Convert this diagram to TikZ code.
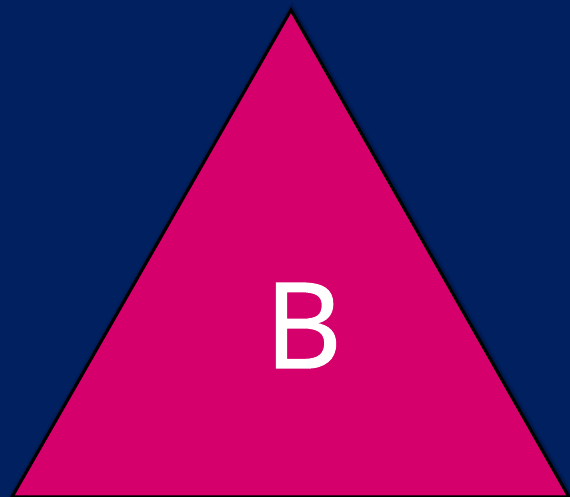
\documentclass[tikz,border=0pt]{standalone}
\usepackage{fontspec}
\setmainfont{Open Sans}
\newfontfamily\letterfont[FakeBold=1.2]{Open Sans}
\definecolor{navybg}{RGB}{0,32,96}
\definecolor{magentafill}{RGB}{214,0,108}
\begin{document}
\begin{tikzpicture}[x=1pt,y=1pt,
  tri/.style={fill=magentafill,draw=black,line width=3pt,line join=miter},
  letter/.style={text=white,font=\letterfont\fontsize{119}{119}\selectfont,inner sep=0pt,anchor=base}]
\fill[navybg] (0,0) rectangle (570,497);
\useasboundingbox (0,0) rectangle (570,497);
\coordinate (L) at (12,0);
\coordinate (T) at (291,487);
\coordinate (R) at (569,0);
% soft shadow
\foreach \o/\a in {8/0.05,6/0.07,4/0.1,2/0.14}{
  \draw[black,opacity=\a,line width=3pt+\o pt,line join=miter] ([xshift=1pt,yshift=-1.5pt]L) -- ([xshift=1pt,yshift=-1.5pt]T) -- ([xshift=1pt,yshift=-1.5pt]R);
}
\draw[tri] (L) -- (T) -- (R) -- cycle;
\node[letter] (b) at (303.5,129) {B};
\end{tikzpicture}
\end{document}
